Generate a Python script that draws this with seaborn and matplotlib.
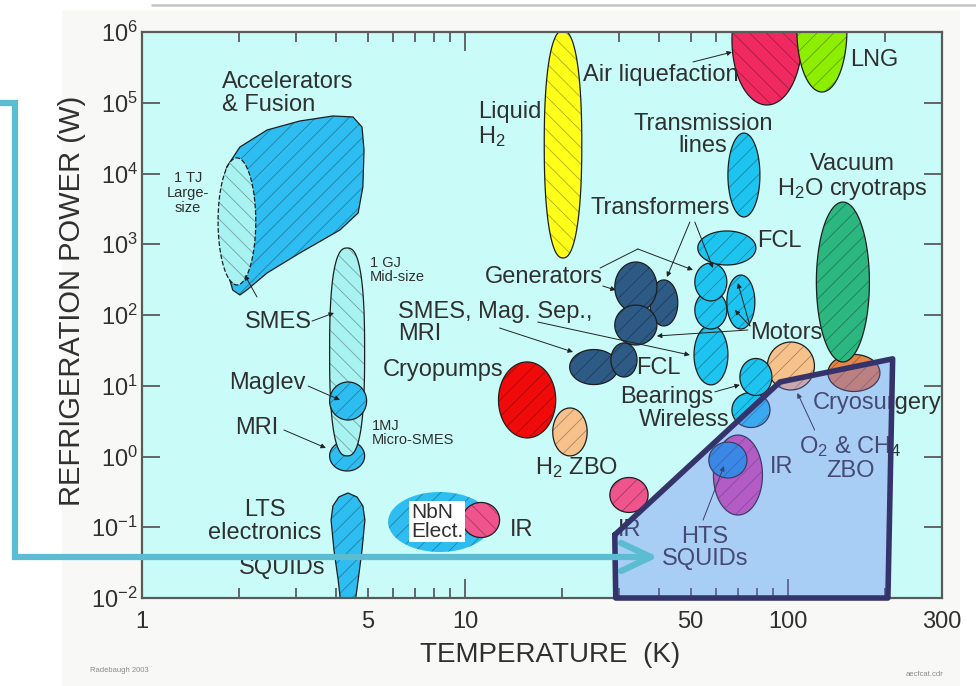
import numpy as np
import matplotlib
matplotlib.use('Agg')
import matplotlib.pyplot as plt
import seaborn as sns
from matplotlib.lines import Line2D
from matplotlib.patches import Rectangle
from matplotlib.ticker import FixedLocator, FuncFormatter, NullLocator

# --- application regions: temperature range (K) and refrigeration power range (W)
regions = ['SMES 1 TJ', 'MRI', 'SMES 1 GJ', 'Maglev', 'NbN', 'IR 11K', 'Liquid H2',
           'Air liquefaction', 'LNG', 'Transmission', 'Motors D', 'Motors C', 'Motors B',
           'Motors A', 'FCL 65K', 'Gen 2', 'Gen 1', 'Gen 3', 'Mag Sep', 'FCL 30K',
           'Cryopumps', 'H2 ZBO', 'IR 30K', 'Cryosurgery', 'Vacuum', 'O2 CH4 ZBO',
           'Wireless', 'Bearings', 'IR 70K', 'HTS SQUIDs']
t_lo = [1.72, 3.81, 3.81, 3.81, 5.78, 9.82, 17.6, 67.1, 106.6, 65.2, 51.2, 51.5, 64.7,
        51.5, 52.6, 37.4, 29.1, 29.1, 21.1, 28.3, 12.7, 18.7, 28.1, 133.0, 122.5, 86.4,
        67.1, 71.0, 58.8, 56.9]
t_hi = [2.25, 4.89, 4.89, 4.96, 12.1, 12.8, 23.0, 110.5, 152.3, 81.9, 65.2, 64.7, 79.0,
        64.7, 79.6, 45.6, 39.3, 39.3, 29.8, 34.1, 19.1, 23.9, 36.9, 192.7, 178.8, 120.8,
        88.0, 89.2, 83.4, 74.7]
p_lo = [266, 0.624, 1.02, 3.28, 0.0447, 0.0716, 640, 9.3e4, 1.42e5, 2.43e3, 10.3, 63.4,
        63.4, 158, 509, 70, 110, 37.7, 10.4, 13.3, 1.83, 1.02, 0.162, 8.3, 21.7, 8.71,
        2.57, 7.28, 0.149, 0.497]
p_hi = [1.66e4, 1.66, 885, 11.3, 0.315, 0.224, 1.05e6, 6.4e6, 8.0e6, 3.73e4, 72.3, 218,
        367, 543, 1.54e3, 313, 561, 138, 32.5, 40.2, 21.7, 4.85, 0.505, 27.7, 3.95e3,
        41.5, 8.03, 24.3, 2.01, 1.60]

# outlines (K, W)
accel_t = [1.83, 2.01, 2.44, 3.08, 3.90, 4.50, 4.80, 4.87, 4.83, 4.67, 4.10, 3.08, 2.44,
           2.11, 2.01, 1.91, 1.87, 1.74, 1.77]
accel_p = [1.24e4, 2.37e4, 4.12e4, 5.52e4, 6.5e4, 6.3e4, 4.54e4, 2.15e4, 6.44e3, 2.77e3,
           1.59e3, 752, 393, 225, 192, 225, 313, 1.44e3, 6.44e3]
lts_t = [3.85, 3.90, 4.07, 4.34, 4.63, 4.83, 4.90, 4.80, 4.67, 4.56, 4.13, 4.05, 3.93]
lts_p = [0.126, 0.20, 0.268, 0.305, 0.268, 0.20, 0.126, 0.0477, 0.0179, 0.008, 0.008,
         0.0179, 0.0477]
hts_t = [29.1, 94.5, 211, 204, 29.3, 29.1]
hts_p = [0.078, 11.3, 24, 0.01, 0.01, 0.078]

x_ticks = [1, 5, 10, 50, 100, 300]

CYAN = '#2ebdf0'
LIGHT = '#a8f2f2'
colors = {
    'SMES 1 TJ': LIGHT, 'MRI': CYAN, 'SMES 1 GJ': LIGHT, 'Maglev': CYAN, 'NbN': CYAN,
    'IR 11K': '#f0548c', 'Liquid H2': '#ffff1a', 'Air liquefaction': '#f02a60',
    'LNG': '#8eee00', 'Transmission': '#1ec4f0', 'Motors D': '#1ec4f0',
    'Motors C': '#1ec4f0', 'Motors B': '#1ec4f0', 'Motors A': '#1ec4f0',
    'FCL 65K': '#1ec4f0', 'Gen 2': '#2e5b85', 'Gen 1': '#2e5b85', 'Gen 3': '#2e5b85',
    'Mag Sep': '#2e5b85', 'FCL 30K': '#2e5b85', 'Cryopumps': '#f00a0a',
    'H2 ZBO': '#f7c18c', 'IR 30K': '#f0548c', 'Cryosurgery': '#e48648',
    'Vacuum': '#2cb680', 'O2 CH4 ZBO': '#f7c18c', 'Wireless': '#1ec4f0',
    'Bearings': '#1ec4f0', 'IR 70K': '#d84cb0', 'HTS SQUIDs': '#1e8fe0',
}
back_hatch = {'SMES 1 TJ', 'SMES 1 GJ', 'IR 11K', 'Liquid H2', 'Air liquefaction'}
capsules = {'SMES 1 GJ': 2.6, 'Liquid H2': 2.3}

sns.set_theme(style='ticks')
plt.rcParams['font.family'] = ['Liberation Sans', 'DejaVu Sans']
plt.rcParams['mathtext.fontset'] = 'custom'
plt.rcParams['mathtext.rm'] = 'Liberation Sans'
plt.rcParams['mathtext.it'] = 'Liberation Sans:italic'
plt.rcParams['hatch.linewidth'] = 0.6

TXT = '#303030'
EDGE = '#1e1e1e'


def outline(tl, th, pl, ph, n=2.0):
    lx0, lx1, ly0, ly1 = np.log10([tl, th, pl, ph])
    a = np.linspace(0, 2 * np.pi, 240)
    c, s = np.cos(a), np.sin(a)
    x = (lx0 + lx1) / 2 + (lx1 - lx0) / 2 * np.sign(c) * np.abs(c) ** (2 / n)
    y = (ly0 + ly1) / 2 + (ly1 - ly0) / 2 * np.sign(s) * np.abs(s) ** (2 / n)
    return 10 ** x, 10 ** y


def draw_shape(ax, t, p, color, hatch='//', edge=EDGE, ls='-', z=2):
    ax.fill(t, p, facecolor=color, edgecolor=(0, 0, 0, 0.32), hatch=hatch, linewidth=0,
            zorder=z)
    if edge:
        ax.fill(t, p, facecolor='none', edgecolor=edge, linewidth=0.9, linestyle=ls,
                zorder=z)


fig = plt.figure(figsize=(9.76, 6.86), dpi=100)
fig.patch.set_facecolor('white')
fig.add_artist(Rectangle((62 / 976, 0), 898 / 976, 676 / 686, transform=fig.transFigure,
                         facecolor='#f8f9f7', edgecolor='none', zorder=-5))
fig.add_artist(Line2D([152 / 976, 1], [1 - 5 / 686, 1 - 5 / 686], transform=fig.transFigure,
                      color='#c4c4c4', lw=1.8))

ax = fig.add_axes([142 / 976, 1 - 598 / 686, 800 / 976, 566 / 686])
ax.set_facecolor('#c9fcf8')
ax.set_xscale('log')
ax.set_yscale('log')
ax.set_xlim(1, 300)
ax.set_ylim(1e-2, 1e6)

# accelerators & fusion blob, then regions
draw_shape(ax, accel_t, accel_p, CYAN)
for i, name in enumerate(regions):
    t, p = outline(t_lo[i], t_hi[i], p_lo[i], p_hi[i], capsules.get(name, 2.0))
    hatch = '\\\\' if name in back_hatch else '//'
    edge = None if name == 'NbN' else EDGE
    ls = '--' if name == 'SMES 1 TJ' else '-'
    draw_shape(ax, t, p, colors[name], hatch, edge, ls)
    if name == 'IR 11K':
        draw_shape(ax, lts_t, lts_p, CYAN)

# labels: (text, T, P, ha, size)
labels = [
    ('Accelerators\n& Fusion', 1.77, 1.37e5, 'left', 17),
    ('1 TJ\nLarge-\nsize', 1.39, 5.3e3, 'center', 10.5),
    ('SMES', 2.08, 80, 'left', 17),
    ('1 GJ\nMid-size', 5.08, 433, 'left', 10.5),
    ('Maglev', 3.20, 10.9, 'right', 17),
    ('MRI', 2.64, 2.53, 'right', 17),
    ('1MJ\nMicro-SMES', 5.15, 2.15, 'left', 10.5),
    ('LTS\nelectronics', 2.40, 0.119, 'center', 17),
    ('SQUIDs', 2.71, 0.0265, 'center', 17),
    ('IR', 13.8, 0.0914, 'left', 17),
    ('Liquid\nH$_2$', 11.0, 4.85e4, 'left', 17),
    ('Air liquefaction', 23.2, 2.47e5, 'left', 17),
    ('LNG', 156, 4.0e5, 'left', 17),
    ('Transmission\nlines', 54.6, 3.5e4, 'center', 17),
    ('Vacuum\nH$_2$O cryotraps', 158, 8.9e3, 'center', 17),
    ('Transformers', 24.4, 3.25e3, 'left', 17),
    ('FCL', 80.2, 1.11e3, 'left', 17),
    ('Generators', 26.8, 344, 'right', 17),
    ('SMES, Mag. Sep.,\nMRI', 6.20, 77, 'left', 17),
    ('Motors', 76.3, 55.7, 'left', 17),
    ('Cryopumps', 5.57, 16.7, 'left', 17),
    ('FCL', 33.8, 17.8, 'left', 17),
    ('Bearings', 58.6, 6.9, 'right', 17),
    ('Wireless', 66.1, 3.28, 'right', 17),
    ('Cryosurgery', 119, 5.7, 'left', 17),
    ('H$_2$ ZBO', 16.5, 0.687, 'left', 17),
    ('IR', 29.8, 0.091, 'left', 17),
    ('IR', 88, 0.711, 'left', 17),
    ('O$_2$ & CH$_4$\nZBO', 156, 0.953, 'center', 17),
    ('HTS\nSQUIDs', 55.3, 0.051, 'center', 17),
]
for text, t, p, ha, size in labels:
    ax.text(t, p, text, ha=ha, va='center', fontsize=size, color=TXT, zorder=5,
            linespacing=1.05, multialignment='center' if ha == 'center' else ha)
ax.text(8.19, 0.119, 'NbN\nElect.', ha='center', va='center', fontsize=15, color=TXT,
        zorder=5, linespacing=1.0, multialignment='left',
        bbox=dict(facecolor='white', edgecolor='none', pad=1.0))

# leader lines: (start T, start P, end T, end P)
leaders = [
    (2.27, 180, 2.08, 367), (3.36, 82, 3.93, 107), (3.27, 9.9, 4.10, 6.3),
    (2.75, 2.37, 3.71, 1.32), (50.8, 3.77e5, 67.1, 5.2e5), (49.7, 2.06e3, 42.2, 344),
    (51.5, 2.06e3, 58.6, 461), (26.7, 257, 29.3, 225), (34.3, 857, 50.8, 433),
    (12.8, 65.5, 21.6, 30), (16.8, 79.6, 49.7, 27.2), (75.2, 61.4, 39.3, 50.5),
    (76.3, 70, 68.5, 118), (76.3, 70, 70.0, 283), (59.4, 8.2, 71.0, 10.3),
    (54.6, 0.126, 63.4, 0.734), (121, 2.37, 107, 7.9),
]
for t0, p0, t1, p1 in leaders:
    ax.annotate('', xy=(t1, p1), xytext=(t0, p0), zorder=6,
                arrowprops=dict(arrowstyle='-|>', color='#222222', lw=0.7,
                                mutation_scale=7, shrinkA=0, shrinkB=0))
ax.plot([26.2, 34.3], [461, 857], color='#222222', lw=0.7, zorder=6)

# HTS operating zone overlay
ax.fill(hts_t, hts_p, facecolor=(0.44, 0.48, 0.94, 0.35), edgecolor='none', zorder=8)
sns.lineplot(x=hts_t, y=hts_p, sort=False, estimator=None, color='#35336b', linewidth=4,
             solid_joinstyle='round', solid_capstyle='round', clip_on=False, zorder=9,
             ax=ax)

# axes styling
for sp in ax.spines.values():
    sp.set_color('#5a5a5a')
    sp.set_linewidth(1.6)
ax.xaxis.set_major_locator(FixedLocator([1, 10, 100]))
ax.xaxis.set_minor_locator(FixedLocator([2, 3, 4, 5, 6, 7, 8, 9, 20, 30, 40, 50, 60, 70,
                                         80, 90, 200, 300]))
ax.xaxis.set_major_formatter(FuncFormatter(lambda v, pos: f'{v:g}'))
ax.xaxis.set_minor_formatter(
    FuncFormatter(lambda v, pos: f'{v:g}' if round(v) in x_ticks else ''))
ax.yaxis.set_major_locator(FixedLocator([10.0 ** k for k in range(-2, 7)]))
ax.yaxis.set_minor_locator(NullLocator())
ax.yaxis.set_major_formatter(
    FuncFormatter(lambda v, pos: '$10^{%d}$' % int(round(np.log10(v)))))
ax.tick_params(axis='x', which='major', direction='in', length=14, width=1.3, top=True,
               labelsize=17, pad=9, colors='#5a5a5a', labelcolor=TXT)
ax.tick_params(axis='x', which='minor', direction='in', length=7, width=1.3, top=True,
               labelsize=17, pad=9, colors='#5a5a5a', labelcolor=TXT)
ax.tick_params(axis='y', which='major', direction='in', length=13, width=1.3, right=True,
               labelsize=17, pad=3, colors='#5a5a5a', labelcolor=TXT)
ax.set_xlabel('TEMPERATURE  (K)', fontsize=20, color=TXT)
ax.set_ylabel('REFRIGERATION POWER (W)', fontsize=21, color=TXT)
ax.xaxis.set_label_coords(0.51, -0.078)
ax.yaxis.set_label_coords(-0.07, 0.525)

fig.text(90 / 976, 1 - 670 / 686, 'Radebaugh 2003', fontsize=5.5, color='#8a8a8a',
         va='center')
fig.text(943 / 976, 1 - 675 / 686, 'aecfcat.cdr', fontsize=5.5, color='#8a8a8a',
         va='center', ha='right')

# teal call-out arrow over the figure
teal = '#5bbcd2'
fig.add_artist(Line2D(np.array([0, 15, 15, 650]) / 976,
                      1 - np.array([103, 103, 557, 557]) / 686, transform=fig.transFigure,
                      color=teal, lw=4.5, solid_joinstyle='miter', zorder=10))
fig.add_artist(Line2D(np.array([621, 651, 621]) / 976, 1 - np.array([543, 557, 571]) / 686,
                      transform=fig.transFigure, color=teal, lw=4.5,
                      solid_capstyle='round', zorder=10))

fig.savefig('out.png', dpi=100)
